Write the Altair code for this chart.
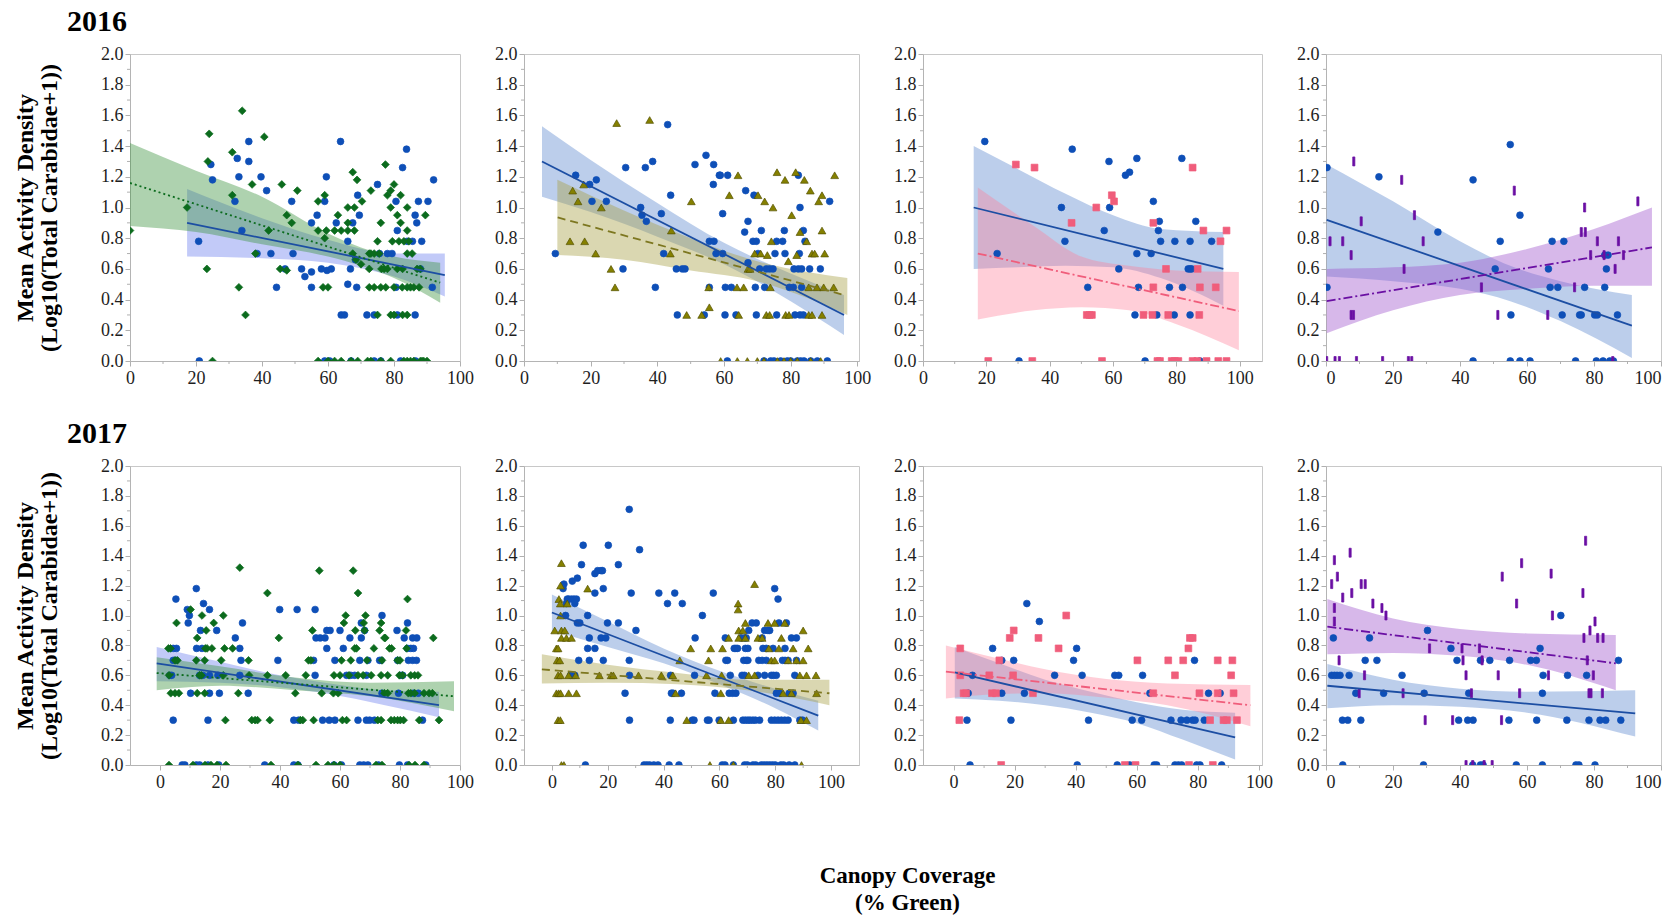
import altair as alt
import pandas as pd

FONT = "Liberation Serif"
Y_TITLE = ["Mean Activity Density", "(Log10(Total Carabidae+1))"]
X_TITLE = ["Canopy Coverage", "(% Green)"]
Y_TICKS = [0.0, 0.2, 0.4, 0.6, 0.8, 1.0, 1.2, 1.4, 1.6, 1.8, 2.0]
Y_MINOR = [0.1, 0.3, 0.5, 0.7, 0.9, 1.1, 1.3, 1.5, 1.7, 1.9]
X_TICKS = [0, 20, 40, 60, 80, 100]
X_MINOR = [10, 30, 50, 70, 90]

# marker / line colours
BLUE = "#0e4fb7"
BLUE_LINE = "#1c4ea3"
GREEN = "#0b6b1d"
OLIVE = "#858000"
PINK = "#f05d7b"
PURPLE = "#6a0fa3"
BAR_PATH = "M-0.24,-1L0.24,-1L0.24,1L-0.24,1Z"

# ---------------- 2016 : panel 1 (blue circles / green diamonds) ----------------
P1_BLUE = [(20.8, 0.78), (24.5, 1.28), (25, 1.18), (31.8, 1.04), (32.5, 1.32), (33, 1.20), (33.9, 0.85),
           (36, 1.43), (36, 1.30), (38.5, 0.70), (39.7, 1.20), (41.4, 1.11), (42.7, 0.70), (44.4, 0.48),
           (47, 0.60), (49, 1.04), (49.4, 0.70), (52, 0.60), (53, 0.55), (55, 0.58), (55, 0.48), (55, 0.90),
           (56.7, 0.95), (58, 0.60), (59, 1.04), (59.5, 1.20), (59.7, 0.59), (61, 0.60), (62.5, 0.90),
           (63.8, 1.43), (66, 0.78), (66, 0.50), (64, 0.30), (65, 0.30), (66.8, 0.60), (67.5, 0.90),
           (68.3, 0.66), (68.7, 0.48), (69, 1.08), (69.5, 0.95), (71.8, 0.30), (74, 0.30), (75, 1.15),
           (75.6, 0.70), (78, 0.70), (79.4, 0.70), (80.6, 1.04), (81, 0.85), (80.6, 0.48), (81, 0.30),
           (82.6, 1.26), (83.8, 1.38), (84, 0.78), (85.6, 0.78), (86.4, 0.95), (86.9, 0.90), (86.4, 0.30),
           (87.4, 1.04), (88.4, 0.78), (88, 0.60), (90.3, 1.04), (91.6, 0.48), (92, 1.18),
           (21, 0), (59, 0), (60.5, 0), (67, 0), (74, 0), (76, 0), (82, 0), (86.5, 0)]
P1_GREEN = [(0, 0.85), (17.3, 1.0), (24, 1.48), (23.6, 1.30), (23.3, 0.60), (31, 1.36), (31, 1.08), (33, 0.48),
            (34, 1.63), (35, 0.30), (37, 1.15), (38, 0.70), (40.7, 1.46), (42, 0.85), (46, 1.15), (45.5, 0.60),
            (47.5, 0.95), (47.5, 0.59), (49, 0.90), (50.7, 1.11), (57, 1.04), (57, 0.85), (59, 1.08), (59, 0.80),
            (58.5, 0.48), (60, 0.48), (59.5, 0.85), (63, 0.95), (62, 0.85), (64, 0.85), (66, 1.0), (66, 0.90),
            (66, 0.85), (67.5, 1.23), (68.8, 1.18), (68, 1.0), (68, 0.85), (67.5, 0.70), (68.5, 0.66),
            (70.3, 1.04), (70, 0.63), (73, 1.11), (72.5, 0.70), (72.5, 0.60), (72.5, 0.48), (75, 0.30),
            (76, 0.90), (75, 0.78), (75.5, 0.70), (76.2, 0.60), (77.4, 1.28), (78, 1.08), (79, 1.11),
            (80, 1.15), (79, 1.0), (79.5, 0.78), (79, 0.30), (81, 0.95), (82, 1.08), (82, 0.90), (81.5, 0.78),
            (82.6, 0.60), (82.6, 0.30), (84, 1.0), (84, 0.85), (84, 0.70), (84, 0.48), (85, 0.48), (85.5, 0.70),
            (88, 0.60), (89.5, 0.95), (87.6, 0.48), (74, 0.48), (76, 0.48), (77.5, 0.48), (80, 0.48),
            (82.5, 0.48), (86, 0.48), (84.5, 0.78), (83, 0.78), (80, 0.30), (84, 0.30), (73, 0.70), (74, 0.70),
            (77, 0.60), (78, 0.60), (81, 0.60), (87, 0.60),
            (25, 0), (57, 0), (60, 0), (62, 0), (64, 0), (67, 0), (69, 0), (72, 0), (73, 0), (76, 0), (79, 0),
            (83, 0), (84, 0), (85, 0), (86, 0), (88, 0), (88.5, 0), (89, 0), (90, 0)]
P1_BLUE_FIT = [(17.3, 0.90), (95.4, 0.56)]
P1_BLUE_CI = [(17.3, 0.68, 1.12), (40, 0.67, 0.93), (60, 0.64, 0.79), (80, 0.55, 0.70), (95.4, 0.42, 0.70)]
P1_GREEN_FIT = [(0, 1.16), (94, 0.51)]
P1_GREEN_CI = [(0, 0.88, 1.42), (20, 0.84, 1.24), (40, 0.76, 1.07), (60, 0.68, 0.83), (70, 0.62, 0.74),
               (80, 0.54, 0.68), (94, 0.38, 0.64)]

# ---------------- 2016 : panel 2 (blue circles / olive triangles) ----------------
P2_BLUE = [(9.4, 0.70), (15.5, 1.21), (19.7, 1.15), (20.4, 1.04), (21.7, 1.18), (24.7, 1.04), (29.7, 0.60),
           (30.5, 1.26), (35, 1.0), (35.4, 0.95), (36.7, 0.91), (36.4, 1.26), (38.6, 1.30), (39.4, 0.48),
           (41.2, 0.96), (41.9, 0.70), (43.1, 1.54), (44, 1.08), (45.7, 0.60), (46, 0.30), (47.5, 0.60),
           (48.3, 0.60), (51.3, 1.28), (54.1, 0.30), (54.6, 1.34), (55.6, 0.48), (55.6, 0.78), (57, 0.78),
           (56.9, 1.28), (56.8, 1.15), (57.6, 0.70), (58.6, 1.21), (58.9, 1.21), (59.6, 0.96), (59.6, 0.70),
           (60.3, 0.30), (60.4, 0.48), (61.1, 1.21), (62.2, 0.48), (63.6, 0.30), (66.5, 1.11), (66.2, 0.84),
           (67.2, 0.91), (67.2, 0.64), (68.7, 0.78), (69.7, 0.78), (69, 1.08), (69.4, 0.48), (69.7, 0.30),
           (70.2, 0.70), (70.7, 0.60), (71.2, 0.85), (72.2, 0.48), (72.7, 0.60), (73.7, 0.60), (74.7, 0.60),
           (75.3, 0.70), (75.8, 0.30), (75.8, 0.78), (77.6, 0.78), (78.1, 0.85), (78.3, 0.70), (79.6, 0.48),
           (80.8, 0.48), (81, 0.60), (82.3, 0.60), (83.3, 0.60), (81.3, 0.30), (82.8, 0.30), (83.8, 0.30),
           (82.3, 1.21), (82.8, 1.0), (82.6, 0.70), (83.8, 0.85), (84.3, 0.78), (83.3, 0.48), (85.7, 0.60),
           (88.9, 0.60), (91.7, 1.04),
           (61, 0), (72, 0), (74, 0), (75, 0), (77, 0), (79, 0), (80, 0), (82, 0), (83, 0), (84, 0), (86, 0),
           (88, 0), (91, 0)]
P2_OLIVE = [(14.6, 1.11), (16.2, 1.04), (13.8, 0.78), (17.9, 1.15), (18.2, 0.78), (21.5, 0.70), (23.2, 1.0),
            (26.1, 0.60), (27.3, 0.48), (27.8, 1.55), (37.7, 1.57), (43.9, 0.70), (44.2, 0.85), (48.8, 0.30),
            (50.2, 1.04), (53.3, 0.30), (55.4, 0.48), (55.6, 0.35), (61.6, 1.08), (64.2, 1.21), (63.9, 0.48),
            (64.4, 0.30), (65.9, 0.48), (67.2, 0.60), (67.8, 0.60), (69.2, 0.70), (70.2, 1.08), (71, 0.70),
            (72.2, 1.04), (72.7, 0.30), (73.7, 0.30), (73, 0.69), (73.9, 0.48), (74.2, 0.78), (74.7, 1.0),
            (75.9, 1.23), (78.3, 1.18), (78.5, 0.30), (79.5, 0.30), (79.3, 0.65), (80.3, 0.95), (81.5, 1.23),
            (81.8, 0.69), (82.8, 0.84), (84.1, 1.18), (84.8, 0.78), (85.4, 0.48), (85.4, 0.30), (86.4, 0.30),
            (85.9, 1.11), (86.4, 0.70), (87.2, 0.70), (87.9, 0.48), (88.4, 1.04), (89.4, 1.08), (89.4, 0.85),
            (89.4, 0.30), (89.9, 0.48), (90.2, 0.70), (92.9, 0.48), (93.2, 1.21),
            (59, 0), (64, 0), (67, 0), (70, 0), (72, 0), (76, 0), (78, 0), (80, 0), (82, 0), (86, 0), (89, 0)]
P2_BLUE_FIT = [(5.4, 1.30), (96, 0.30)]
P2_BLUE_CI = [(5.4, 1.07, 1.53), (20, 0.97, 1.31), (40, 0.81, 1.03), (60, 0.63, 0.77), (80, 0.39, 0.57),
              (96, 0.17, 0.43)]
P2_OLIVE_FIT = [(10.1, 0.935), (96, 0.43)]
P2_OLIVE_CI = [(10, 0.69, 1.18), (30, 0.66, 0.98), (50, 0.59, 0.80), (70, 0.52, 0.65), (85, 0.41, 0.58),
               (97, 0.30, 0.54)]

# ---------------- 2016 : panel 3 (blue circles / pink squares) ----------------
P3_BLUE = [(19.5, 1.43), (23.4, 0.70), (30.3, 0), (43.7, 1.0), (44.8, 0.78), (47.1, 1.38), (52, 0.48),
           (57.2, 0.85), (58.7, 1.30), (58.9, 1.0), (61.8, 0.60), (63.9, 1.21), (65.2, 1.23), (66.9, 0.30),
           (67.5, 0.70), (67.5, 1.32), (68, 0.48), (70.1, 0), (72, 0.70), (72.7, 1.04), (73.8, 0.30),
           (74.3, 0.85), (74.6, 0.91), (75, 0.78), (77.8, 0.48), (79.3, 0.30), (79.5, 0.78), (81.7, 1.32),
           (81.9, 0.48), (83.7, 0.60), (84.3, 0.60), (84.8, 0.60), (84.3, 0.78), (84.3, 0.30), (86.1, 0.91),
           (87.4, 0), (91.1, 0.78)]
P3_PINK = [(20.6, 0), (29.3, 1.28), (34.5, 0), (35.2, 1.26), (46.9, 0.90), (51.7, 0.30), (52.6, 0.30),
           (53.3, 0.30), (54.7, 1.0), (56.5, 0), (59.6, 1.08), (60.3, 1.04), (69.6, 0.30), (72.7, 0.90),
           (72.7, 0.48), (72.4, 0.30), (74, 0), (74.8, 0), (76.7, 0.60), (77.4, 0.30), (78.5, 0), (79.5, 0),
           (80.6, 0), (85.1, 1.26), (85.1, 0), (86.6, 0), (86.7, 0.60), (87.4, 0.48), (87.2, 0.30), (88.5, 0.85),
           (89.5, 0), (92.4, 0.48), (93.2, 0), (93.9, 0.78), (95.8, 0.85), (95.8, 0)]
P3_BLUE_FIT = [(16, 1.0), (94.8, 0.60)]
P3_BLUE_CI = [(16, 0.60, 1.40), (30, 0.61, 1.25), (45, 0.62, 1.09), (60, 0.61, 0.95), (75, 0.54, 0.86),
              (94.8, 0.36, 0.84)]
P3_PINK_FIT = [(17.3, 0.70), (99.7, 0.325)]
P3_PINK_CI = [(17.3, 0.27, 1.13), (35, 0.33, 0.88), (50, 0.35, 0.68), (65, 0.33, 0.62), (80, 0.24, 0.59),
              (99.7, 0.07, 0.58)]

# ---------------- 2016 : panel 4 (blue circles / purple bars) ----------------
P4_BLUE = [(0.3, 1.26), (0.3, 0.48), (15.8, 1.20), (33.4, 0.84), (43.9, 1.18), (43.9, 0), (50.5, 0.60),
           (52, 0.78), (55, 1.41), (55.2, 0.30), (55, 0), (57.9, 0.95), (57.9, 0), (60.9, 0), (66.4, 0.60),
           (66.9, 0.48), (67.5, 0.78), (69.2, 0.48), (70.5, 0.30), (71, 0.78), (74.5, 0), (75.7, 0.30),
           (76.2, 0.30), (77.2, 0.48), (80.2, 0.30), (81, 0.30), (80.7, 0), (82.7, 0), (84.7, 0), (85.8, 0),
           (83.2, 0.48), (83.2, 0.69), (83.7, 0.60), (84.2, 0.69), (87, 0.30)]
P4_PURPLE = [(0.2, 0), (1.2, 0.78), (2.7, 0), (4, 0), (5, 0.78), (7.5, 0.69), (7.5, 0.30), (8.2, 0.30),
             (8.3, 1.30), (9.1, 0), (10.5, 0.91), (16.9, 0), (22.6, 1.18), (23.3, 0.60), (24.6, 0), (25.6, 0),
             (26.4, 0.95), (29, 0.78), (46.4, 0.48), (51.3, 0.30), (56.2, 1.11), (66.2, 0.30), (74.2, 0.48),
             (76.2, 0.84), (77.4, 0.84), (77.2, 1.0), (79, 0.69), (81, 0.78), (83, 0.69), (86.3, 0.60),
             (87.3, 0.78), (88.8, 0.69), (93.1, 1.04), (85.6, 0)]
P4_BLUE_FIT = [(0.2, 0.92), (91.3, 0.23)]
P4_BLUE_CI = [(0.2, 0.55, 1.28), (20, 0.52, 1.04), (40, 0.47, 0.78), (55, 0.39, 0.62), (70, 0.26, 0.52),
              (91.3, 0.02, 0.43)]
P4_PURPLE_FIT = [(0.2, 0.39), (97.3, 0.74)]
P4_PURPLE_CI = [(0.2, 0.18, 0.60), (20, 0.33, 0.61), (40, 0.43, 0.64), (60, 0.47, 0.73), (80, 0.49, 0.86),
                (97.3, 0.49, 1.0)]

# ---------------- 2017 : panel 5 (blue circles / green diamonds) ----------------
P5_BLUE = [(5.3, 1.11), (9.1, 1.04), (9.8, 1.0), (9.4, 0.95), (12.1, 1.18), (14.5, 1.08), (16.5, 1.04),
           (13.5, 0.90), (18.9, 0.90), (12.2, 0.78), (14, 0.78), (4.4, 0.78), (5.5, 0.78), (4.4, 0.70),
           (5.3, 0.70), (3.3, 0.60), (3.9, 0.60), (13.2, 0.60), (14.3, 0.60), (16.5, 0.60), (19.3, 0.60),
           (4.4, 0.30), (10.2, 0.48), (16.5, 0.48), (19.8, 0.48), (16, 0.30), (25.1, 0.85), (26.6, 0.78),
           (27.5, 0.95), (27, 0.70), (26.6, 0.60), (29.4, 0.48), (39.3, 0.70), (39.9, 1.04), (45.7, 1.04),
           (44.6, 0.30), (46.2, 0.30), (51.7, 1.04), (51.2, 0.70), (51.7, 0.60), (52, 0.85), (53.4, 0.85),
           (55, 0.85), (55.6, 0.78), (55.6, 0.90), (56.7, 0.90), (54.2, 0.30), (56.4, 0.30), (58.3, 0.30),
           (58.3, 0.70), (60, 0.90), (61.1, 0.78), (63.3, 0.85), (62.2, 0.60), (63.6, 0.60), (64.9, 0.60),
           (66, 0.30), (66.6, 0.70), (67.1, 0.95), (67.1, 0.85), (68.2, 0.90), (68.8, 0.30), (69.9, 0.30),
           (69.3, 0.70), (68.8, 0.60), (74, 1.0), (73.2, 0.70), (73.7, 0.70), (74, 0.48), (71.5, 0.30),
           (79, 0.90), (79.2, 0.70), (79.5, 0.48), (80.3, 0.60), (80.9, 0.60), (81.4, 0.85), (82.5, 0.95),
           (82.5, 0.78), (83.6, 0.78), (84.5, 0.78), (82.8, 0.70), (84.2, 0.70), (85.5, 0.70), (84.2, 0.85),
           (85.6, 0.85), (84.5, 0.48), (86.1, 0.48), (87.5, 0.30),
           (7.4, 0), (8.3, 0), (12.1, 0), (13.2, 0), (16, 0), (19.6, 0), (34.9, 0), (44.6, 0), (46, 0), (58, 0),
           (60.5, 0), (66.6, 0), (67.9, 0), (69.3, 0), (72.8, 0), (79.8, 0), (82.5, 0), (88.6, 0)]
P5_GREEN = [(2.8, 0.78), (3.5, 0.78), (3, 0.60), (3.6, 0.48), (5, 0.48), (6.3, 0.48), (5.5, 0.95), (5, 0.70),
            (5.8, 0.70), (10.2, 1.04), (12.4, 0.85), (14, 1.0), (15.4, 0.90), (12.1, 0.70), (14.9, 0.70),
            (13.2, 0.60), (13.8, 0.60), (15.1, 0.78), (15.7, 0.78), (17.3, 0.78), (12.4, 0.48), (14.9, 0.48),
            (17.9, 0.95), (21.1, 1.0), (21.5, 0.78), (20.4, 0.70), (21.1, 0.60), (21.8, 0.30), (24.2, 0.78),
            (26.6, 1.32), (26.1, 0.48), (29.5, 0.70), (29.7, 0.60), (30.6, 0.30), (31.7, 0.30), (32.5, 0.30),
            (35.8, 1.15), (35.8, 0.60), (36.6, 0.30), (39.6, 0.85), (41.9, 0.60), (45.1, 0.48), (46.8, 0.30),
            (47.6, 0.30), (48.6, 0.60), (49.5, 0.70), (50.3, 0.70), (50.8, 0.90), (51.2, 0.30), (53.1, 1.30),
            (53.9, 0.48), (57.8, 0.48), (59.4, 0.48), (58, 0.60), (60, 0.60), (60.5, 0.70), (61.3, 0.95),
            (61.9, 1.0), (60.8, 0.30), (62.2, 0.30), (63, 0.60), (63.6, 0.70), (64.4, 1.30), (65.1, 0.90),
            (64.9, 0.78), (65.5, 0.78), (66, 1.15), (66, 0.60), (67.7, 0.60), (67.9, 0.95), (68.5, 1.0),
            (68.2, 0.90), (69, 0.70), (70.4, 0.60), (71.3, 0.78), (72.6, 0.30), (73.7, 0.30), (73.7, 0.95),
            (73.2, 0.90), (74.8, 0.85), (75.1, 0.85), (74, 0.70), (73.7, 0.60), (75.9, 0.60), (74.8, 0.48),
            (75.9, 0.48), (76.5, 0.78), (77.2, 0.78), (77, 0.30), (78.1, 0.30), (79.2, 0.30), (80.1, 0.30),
            (79.2, 0.70), (80, 0.70), (79.8, 0.60), (80.9, 0.60), (82, 0.90), (82.2, 0.78), (82.5, 1.11),
            (81.2, 0.30), (82.8, 0.48), (83.6, 0.60), (84.9, 0.60), (86, 0.60), (83.6, 0.48), (84.9, 0.48),
            (86.4, 0.30), (88, 0.48), (89.7, 0.48), (90.8, 0.48), (91.1, 0.85), (93, 0.30),
            (3, 0), (11, 0), (15, 0), (17, 0), (19, 0), (22, 0), (37, 0), (46, 0), (52, 0), (56, 0), (58, 0),
            (60, 0), (72, 0), (74, 0), (83, 0), (85, 0), (88, 0)]
P5_BLUE_FIT = [(-1.1, 0.68), (93, 0.40)]
P5_BLUE_CI = [(-1.1, 0.56, 0.79), (20, 0.55, 0.69), (40, 0.52, 0.60), (55, 0.48, 0.55), (75, 0.40, 0.50),
              (93, 0.32, 0.49)]
P5_GREEN_FIT = [(-1.1, 0.615), (98, 0.46)]
P5_GREEN_CI = [(-1.1, 0.50, 0.72), (20, 0.53, 0.66), (45, 0.50, 0.585), (70, 0.46, 0.55), (98, 0.36, 0.56)]

# ---------------- 2017 : panel 6 (blue circles / olive triangles) ----------------
P6_BLUE = [(4, 1.18), (4.3, 1.21), (5.2, 1.08), (5.5, 1.11), (6, 1.11), (7, 1.11), (7.9, 1.11), (8.8, 1.11),
           (4.9, 1.0), (7.3, 1.23), (8.2, 1.08), (9.1, 1.25), (9.1, 0.95), (10, 0.95), (9.6, 0.70), (6.7, 0.60),
           (7.6, 0.60), (8.2, 0.60), (10.6, 1.34), (11.2, 1.47), (12.8, 1.0), (12.8, 0.78), (13.4, 0.85),
           (13.4, 0.70), (15.4, 0.78), (15.4, 1.15), (15.4, 1.28), (16.4, 1.30), (17.6, 1.30), (18.1, 1.30),
           (18.4, 1.18), (17.6, 0.85), (19.3, 0.85), (18.4, 0.70), (20.2, 1.47), (19.9, 0.95), (23.8, 1.34),
           (23.8, 0.95), (26.2, 0.48), (27.7, 1.71), (27.7, 0.70), (27.8, 0.30), (27.8, 0.60), (28.4, 1.15),
           (30.1, 0.90), (31.4, 1.44), (38.3, 1.15), (41.4, 1.08), (42.5, 0.60), (42.4, 0.30), (42.8, 0.48),
           (43.4, 0.48), (44, 1.15), (46.4, 0.48), (46.7, 1.08), (51.1, 0.60), (51.3, 0.85), (50.3, 0.30),
           (50.9, 0.30), (53.9, 1.0), (55.7, 0.30), (56.3, 0.30), (57.8, 1.15), (58.4, 0.48), (59.9, 0.30),
           (62.1, 0.85), (62.3, 0.70), (62.9, 0.70), (63.9, 0.60), (63.5, 0.48), (64.7, 0.48), (65.9, 0.48),
           (65, 0.30), (65.3, 0.78), (65.9, 0.78), (66.5, 0.78), (67.7, 0.85), (69, 0.85), (69.6, 0.85),
           (68.1, 0.60), (69, 0.60), (68.7, 0.70), (69.6, 0.70), (70.2, 0.70), (69.3, 0.78), (70.2, 0.78),
           (68.4, 0.30), (69.3, 0.30), (70.2, 0.30), (71, 0.30), (72, 0.30), (72.9, 0.30), (74.4, 0.30),
           (70.5, 0.90), (71.7, 0.95), (73.2, 0.95), (74.1, 0.70), (75.3, 0.70), (76.8, 0.70), (75.3, 0.85),
           (76.2, 0.90), (77.4, 0.90), (78, 0.90), (75.6, 0.78), (76.8, 0.78), (73.8, 0.60), (76.2, 0.60),
           (78.6, 0.60), (79.8, 1.18), (81, 1.11), (79.2, 0.78), (79.4, 0.60), (80.4, 0.60), (78.6, 0.30),
           (79.8, 0.30), (81, 0.30), (82.2, 0.30), (83.4, 0.30), (84.6, 0.30), (80.4, 0.48), (81.6, 0.48),
           (81.3, 0.95), (82.6, 0.70), (83.5, 0.70), (84.6, 0.70), (83.5, 0.78), (84, 0.95), (85, 0.48),
           (86.4, 0.48), (85.8, 0.85), (87.6, 0.85), (87, 0.60), (87.6, 0.70), (88.8, 0.30), (89.8, 0.30),
           (12, 0), (33, 0), (34, 0), (35, 0), (36.5, 0), (38, 0), (42, 0), (45.5, 0), (61, 0), (62, 0), (65, 0),
           (69, 0), (70, 0), (72, 0), (73, 0), (75, 0), (76, 0), (77, 0), (78, 0), (79, 0), (80, 0), (82, 0),
           (83, 0), (85, 0), (87, 0)]
P6_OLIVE = [(1, 0.90), (1.6, 0.78), (2.2, 0.78), (1.9, 0.70), (2.8, 0.70), (2.2, 0.60), (3.1, 0.60),
            (1.6, 0.48), (2.4, 0.48), (3.1, 0.48), (2.2, 0.30), (3, 0.30), (2.5, 1.11), (3, 1.08), (3.1, 1.20),
            (3.4, 1.35), (3.1, 1.0), (3.4, 0.90), (4.6, 0.90), (3.4, 0.85), (5.2, 0.85), (3.4, 0), (4.3, 0),
            (6, 0.60), (6, 0.48), (8.8, 0.48), (5.5, 1.08), (7, 0.85), (8.5, 0.60), (12.8, 1.18), (17, 0.60),
            (21.2, 0.60), (22, 0.60), (31, 0.60), (39.2, 0.60), (43.3, 0.60), (44.3, 0.48), (45.8, 0.70),
            (48.3, 0.30), (49.7, 0.78), (55.4, 0.60), (56.1, 0.70), (56.9, 0.78), (56.6, 0), (60.5, 0.30),
            (61.1, 0.78), (60.8, 0.60), (60.5, 0.48), (63.3, 0.30), (63.3, 0.85), (65, 0), (66.7, 1.08),
            (66.7, 1.04), (66.9, 0.90), (68.4, 0.90), (66.9, 0.85), (69.3, 0.85), (69.3, 0.95), (72.6, 1.21),
            (70.5, 0.60), (72.6, 0.60), (73.8, 0.85), (75.3, 0.85), (77.4, 0.95), (79.8, 0.95), (77.7, 0.78),
            (78.6, 0.70), (79.8, 0.70), (81.3, 0.78), (82.2, 0.85), (83.4, 0.95), (84.6, 0.70), (86.4, 0.78),
            (87.6, 0.70), (88.8, 0.60), (91.2, 0.60), (94.6, 0.60), (90, 0.70), (90, 0.90), (91.8, 0.78),
            (89.2, 0.30), (91.2, 0.30), (94.8, 0.48), (82.8, 0.48), (85.8, 0.48), (89.4, 0)]
P6_BLUE_FIT = [(0, 1.02), (95.4, 0.33)]
P6_BLUE_CI = [(0, 0.90, 1.14), (20, 0.79, 0.96), (40, 0.68, 0.78), (60, 0.54, 0.63), (80, 0.38, 0.51),
              (95.4, 0.23, 0.43)]
P6_OLIVE_FIT = [(-3.6, 0.64), (99.4, 0.48)]
P6_OLIVE_CI = [(-3.6, 0.545, 0.74), (20, 0.55, 0.67), (45, 0.54, 0.615), (70, 0.50, 0.57), (99.4, 0.40, 0.57)]

# ---------------- 2017 : panel 7 (blue circles / pink squares) ----------------
P7_BLUE = [(4.4, 0.30), (4.8, 0.48), (5.4, 0), (6.2, 0.60), (12.8, 0.78), (15.8, 0.70), (15.8, 0.48),
           (18.8, 0.30), (19.7, 0.70), (23.2, 0.48), (24, 1.08), (28.1, 0.96), (33.1, 0.60), (39.3, 0.70),
           (40.3, 0.78), (40.5, 0), (42.1, 0.60), (44.2, 0.30), (52.8, 0.60), (54.1, 0.60), (53.6, 0),
           (57.7, 0), (58.5, 0.30), (61.6, 0.30), (61.9, 0.60), (64.3, 0.48), (65.7, 0), (66.5, 0),
           (71.2, 0.30), (72.5, 0), (73.6, 0), (74.7, 0), (74.5, 0.30), (76.4, 0.30), (78.3, 0.30),
           (79.1, 0.30), (78.9, 0.70), (79.6, 0), (80.7, 0), (82.1, 0.30), (83.5, 0.48), (87.3, 0.48),
           (87.8, 0)]
P7_PINK = [(1.9, 0.30), (2.2, 0.78), (2.2, 0.60), (3.3, 0.48), (4.1, 0.48), (11.7, 0.60), (12.6, 0.48),
           (13.9, 0.48), (15, 0.70), (15.6, 0), (18.4, 0.85), (19.5, 0.60), (19.7, 0.90), (26, 0.48),
           (27.8, 0.85), (34.4, 0.78), (36.9, 1.0), (56.1, 0), (59.6, 0), (60.2, 0.70), (65.4, 0.48),
           (70.3, 0.70), (72.5, 0.60), (75.2, 0.70), (76.9, 0.78), (77.4, 0.85), (78.3, 0.85), (77.1, 0),
           (80.5, 0.48), (84, 0.30), (84.9, 0), (86.5, 0.70), (86.5, 0.48), (88.4, 0.30), (89.5, 0.30),
           (90.9, 0.60), (91.3, 0.70), (91.7, 0.48), (92.8, 0.30)]
P7_BLUE_FIT = [(0.4, 0.62), (92.2, 0.185)]
P7_BLUE_CI = [(0.4, 0.445, 0.79), (15, 0.43, 0.68), (30, 0.40, 0.57), (45, 0.35, 0.49), (60, 0.28, 0.42),
              (75, 0.17, 0.37), (92.2, 0.036, 0.35)]
P7_PINK_FIT = [(-2.5, 0.625), (97.2, 0.40)]
P7_PINK_CI = [(-2.5, 0.445, 0.80), (15, 0.475, 0.71), (30, 0.48, 0.64), (50, 0.45, 0.575), (70, 0.40, 0.545),
              (97.2, 0.26, 0.535)]

# ---------------- 2017 : panel 8 (blue circles / purple bars) ----------------
P8_BLUE = [(2.2, 0.85), (1.7, 0.60), (2.5, 0.60), (3.3, 0.60), (4.2, 0.60), (5, 0), (4.9, 0.30), (6.5, 0.30),
           (6.9, 0.60), (8.9, 0.48), (10.4, 0.30), (11.7, 0.70), (13, 0.85), (15.2, 0.70), (17.2, 0.48),
           (22.7, 0.60), (29.1, 0), (29.3, 0.48), (30.3, 0.90), (37.3, 0.78), (39.6, 0.30), (39.1, 0.70),
           (42.3, 0.30), (43.9, 0.30), (42.6, 0.48), (46.1, 0.70), (48.9, 0.70), (43.8, 0), (46.1, 0), (46.9, 0),
           (54.6, 0.30), (54.8, 0.70), (56.8, 0), (61.1, 0.70), (62.8, 0.70), (62.9, 0.30), (63.9, 0.78),
           (64.8, 0.60), (64.6, 0.48), (64.6, 0), (70.1, 1.0), (72.1, 0.60), (71.9, 0.30), (74.6, 0), (75.5, 0),
           (77.8, 0.60), (78.5, 0.30), (80.3, 0), (81.8, 0.30), (83.5, 0.30), (87.3, 0.70), (88, 0.30)]
P8_PURPLE = [(1.7, 1.21), (2.5, 1.37), (2.5, 1.05), (2.5, 0.96), (3.4, 1.26), (3.9, 0.70), (5, 1.12),
             (7.2, 1.42), (7.7, 1.15), (9.9, 0.48), (10.5, 1.21), (11.7, 1.21), (11.5, 0.60), (14, 1.08),
             (16.7, 1.05), (17.9, 1.0), (23, 0.48), (29.6, 0.30), (30.9, 0.78), (37.8, 0.30), (40.6, 0.78),
             (40.9, 0.70), (41.8, 0.60), (41.8, 0), (43.4, 0.48), (43.8, 0), (47.2, 0), (49.6, 0), (45.8, 0.78),
             (46.6, 0.70), (51.4, 0.60), (52.4, 0.30), (52.6, 1.26), (56.9, 1.08), (57.8, 0.48), (58.4, 1.35),
             (66.4, 0.60), (67.2, 1.28), (67.6, 1.0), (76.7, 1.15), (77, 0.85), (77.5, 1.50), (78, 0.70),
             (78.8, 0.90), (78.5, 0.48), (79.1, 0.48), (79.8, 0.60), (80.3, 0.96), (81.1, 0.85), (82.7, 0.85),
             (82.5, 0.48)]
P8_BLUE_FIT = [(0.4, 0.53), (92.3, 0.345)]
P8_BLUE_CI = [(0.4, 0.38, 0.675), (20, 0.40, 0.57), (40, 0.39, 0.51), (60, 0.35, 0.49), (92.3, 0.19, 0.50)]
P8_PURPLE_FIT = [(0.4, 0.925), (86.5, 0.68)]
P8_PURPLE_CI = [(0.4, 0.74, 1.11), (20, 0.75, 0.98), (40, 0.73, 0.91), (60, 0.67, 0.88), (86.5, 0.50, 0.87)]


def pts(rows):
    return pd.DataFrame(rows, columns=["x", "y"])


def band(rows):
    return pd.DataFrame(rows, columns=["x", "lo", "hi"])


def panel(xdom, width, height, bands, points, fits, y_title=None, row_title=None, flush=False):
    xs = alt.Scale(domain=xdom, nice=False, zero=False)
    ys = alt.Scale(domain=[0, 2], nice=False, zero=False)
    if y_title:
        y_axis = alt.Axis(values=Y_TICKS, format=".1f", tickSize=5, labelPadding=2,
                          title=y_title, titlePadding=39, titleLineHeight=24)
    else:
        y_axis = alt.Axis(values=Y_TICKS, format=".1f", tickSize=5, labelPadding=2, title=None)
    x_axis = alt.Axis(values=X_TICKS, format="d", tickSize=5, labelPadding=3, title=None,
                      labelFlush=flush)

    def xenc(field):
        return alt.X(field, scale=xs, axis=x_axis)

    def yenc(field):
        return alt.Y(field, scale=ys, axis=y_axis)

    layers = [
        alt.Chart(pd.DataFrame({"v": Y_MINOR})).mark_rule(color="#b0b0b0", strokeWidth=1).encode(
            y=yenc("v:Q"), x=alt.value(-3), x2=alt.value(0)),
        alt.Chart(pd.DataFrame({"v": X_MINOR})).mark_rule(color="#b0b0b0", strokeWidth=1).encode(
            x=xenc("v:Q"), y=alt.value(height), y2=alt.value(height + 3)),
    ]
    for rows, color, op in bands:
        layers.append(alt.Chart(band(rows)).mark_area(color=color, opacity=op, interpolate="monotone").encode(
            x=xenc("x:Q"), y=yenc("lo:Q"), y2="hi:Q"))
    for rows, shape, color, size, stroke in points:
        layers.append(alt.Chart(pts(rows)).mark_point(
            shape=shape, filled=True, fill=color, stroke=stroke, strokeWidth=0.7, opacity=1,
            size=size, clip=True).encode(x=xenc("x:Q"), y=yenc("y:Q")))
    for rows, color, dash in fits:
        mk = dict(color=color, strokeWidth=1.8, clip=True)
        if dash:
            mk["strokeDash"] = dash
        layers.append(alt.Chart(pts(rows)).mark_line(**mk).encode(x=xenc("x:Q"), y=yenc("y:Q")))

    props = dict(width=width, height=height)
    if row_title:
        props["title"] = alt.TitleParams(text=row_title, anchor="start", frame="group", dx=-63, offset=8,
                                         font=FONT, fontSize=30, fontWeight="bold", color="#000")
    return alt.layer(*layers).properties(**props)


BLUE_BAND = "#5f8bd0"
DOT = [2, 3]
DASH = [8, 5]
DASHDOT = [9, 3, 2, 3]

W = [330, 335, 339, 335]
H1, H2 = 307, 299


def blue_pts(rows):
    return (rows, "circle", BLUE, 46, BLUE)


row1 = alt.hconcat(
    panel([0, 100], W[0], H1,
          [(P1_BLUE_CI, "#6d80ee", 0.42), (P1_GREEN_CI, "#3f9440", 0.42)],
          [blue_pts(P1_BLUE), (P1_GREEN, "diamond", GREEN, 60, GREEN)],
          [(P1_BLUE_FIT, BLUE_LINE, None), (P1_GREEN_FIT, GREEN, DOT)],
          y_title=Y_TITLE, row_title="2016"),
    panel([0, 100.5], W[1], H1,
          [(P2_BLUE_CI, BLUE_BAND, 0.42), (P2_OLIVE_CI, "#a89f45", 0.42)],
          [blue_pts(P2_BLUE), (P2_OLIVE, "triangle-up", OLIVE, 60, "#555200")],
          [(P2_BLUE_FIT, BLUE_LINE, None), (P2_OLIVE_FIT, "#7d7720", DASH)]),
    panel([0, 107], W[2], H1,
          [(P3_BLUE_CI, BLUE_BAND, 0.42), (P3_PINK_CI, "#ff7f98", 0.38)],
          [blue_pts(P3_BLUE), (P3_PINK, "square", PINK, 46, PINK)],
          [(P3_BLUE_FIT, BLUE_LINE, None), (P3_PINK_FIT, PINK, DASHDOT)]),
    panel([0, 100], W[3], H1,
          [(P4_BLUE_CI, BLUE_BAND, 0.42), (P4_PURPLE_CI, "#a055cc", 0.42)],
          [blue_pts(P4_BLUE), (P4_PURPLE, BAR_PATH, PURPLE, 81, PURPLE)],
          [(P4_BLUE_FIT, BLUE_LINE, None), (P4_PURPLE_FIT, PURPLE, DASHDOT)], flush=True),
    spacing=64, bounds="flush",
)

row2 = alt.hconcat(
    panel([-10, 100], W[0], H2,
          [(P5_BLUE_CI, "#6d80ee", 0.42), (P5_GREEN_CI, "#3f9440", 0.42)],
          [blue_pts(P5_BLUE), (P5_GREEN, "diamond", GREEN, 60, GREEN)],
          [(P5_BLUE_FIT, BLUE_LINE, None), (P5_GREEN_FIT, GREEN, DOT)],
          y_title=Y_TITLE, row_title="2017"),
    panel([-10, 110], W[1], H2,
          [(P6_BLUE_CI, BLUE_BAND, 0.42), (P6_OLIVE_CI, "#a89f45", 0.42)],
          [blue_pts(P6_BLUE), (P6_OLIVE, "triangle-up", OLIVE, 60, "#555200")],
          [(P6_BLUE_FIT, BLUE_LINE, None), (P6_OLIVE_FIT, "#7d7720", DASH)]),
    panel([-10, 101], W[2], H2,
          [(P7_BLUE_CI, BLUE_BAND, 0.42), (P7_PINK_CI, "#ff7f98", 0.38)],
          [blue_pts(P7_BLUE), (P7_PINK, "square", PINK, 46, PINK)],
          [(P7_BLUE_FIT, BLUE_LINE, None), (P7_PINK_FIT, PINK, DASHDOT)]),
    panel([0, 100], W[3], H2,
          [(P8_BLUE_CI, BLUE_BAND, 0.42), (P8_PURPLE_CI, "#a055cc", 0.42)],
          [blue_pts(P8_BLUE), (P8_PURPLE, BAR_PATH, PURPLE, 81, PURPLE)],
          [(P8_BLUE_FIT, BLUE_LINE, None), (P8_PURPLE_FIT, PURPLE, DASHDOT)], flush=True),
    spacing=64, bounds="flush",
)

chart = alt.vconcat(row1, row2, spacing=30).properties(
    title=alt.TitleParams(text=X_TITLE, orient="bottom", anchor="middle", offset=73, dx=70,
                          font=FONT, fontSize=23, fontWeight="bold", color="#000", lineHeight=27.5),
    padding={"left": 12, "top": 6, "right": 0, "bottom": 0},
    background="white",
).configure_view(
    stroke="#c8c8c8", strokeWidth=1,
).configure_axis(
    domainColor="#b4b4b4", tickColor="#b0b0b0", grid=False,
    labelFont=FONT, labelFontSize=18, labelColor="#1e1e1e",
    titleFont=FONT, titleFontSize=24, titleFontWeight="bold", titleColor="#000",
)

chart.save("out.html", embed_options={"renderer": "svg", "actions": False})
